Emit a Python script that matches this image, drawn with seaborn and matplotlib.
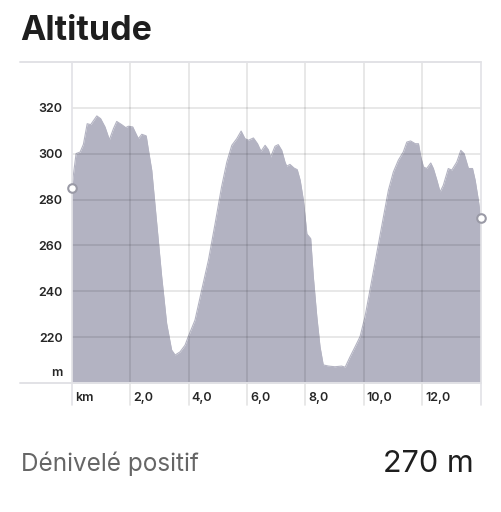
import numpy as np
import pandas as pd
import matplotlib.pyplot as plt
import matplotlib.transforms as mtransforms
import seaborn as sns

# profile (km, m)
dist_km = [0.0, 0.15, 0.29, 0.40, 0.53, 0.65, 0.86, 0.99, 1.14, 1.29, 1.43, 1.54,
           1.71, 1.85, 1.94, 2.09, 2.17, 2.28, 2.40, 2.55, 2.62, 2.74, 2.91, 3.08,
           3.25, 3.42, 3.54, 3.71, 3.88, 3.99, 4.22, 4.45, 4.68, 4.91, 5.13, 5.31,
           5.48, 5.65, 5.80, 5.93, 6.05, 6.22, 6.36, 6.48, 6.62, 6.73, 6.81, 6.96,
           7.07, 7.19, 7.30, 7.36, 7.47, 7.61, 7.72, 7.82, 7.93, 7.99, 8.05, 8.18,
           8.27, 8.39, 8.50, 8.61, 8.79, 9.01, 9.24, 9.36, 9.53, 9.70, 9.87, 10.04,
           10.21, 10.44, 10.67, 10.84, 11.01, 11.18, 11.35, 11.47, 11.60, 11.76, 11.87,
           11.95, 12.04, 12.15, 12.29, 12.38, 12.50, 12.61, 12.72, 12.89, 13.01, 13.18,
           13.32, 13.43, 13.58, 13.72, 13.81, 13.92, 14.0]
alt_m = [285.0, 300.0, 300.7, 304.0, 313.0, 312.6, 316.4, 315.2, 311.6, 306.0, 310.9, 314.0,
         312.6, 311.3, 311.9, 311.6, 309.4, 306.5, 308.4, 307.7, 302.0, 292.7, 269.6, 246.4,
         226.0, 214.5, 212.3, 213.7, 216.6, 220.3, 227.5, 240.6, 253.6, 269.6, 285.5, 296.3,
         303.6, 306.5, 309.8, 306.5, 305.8, 306.8, 304.3, 301.0, 303.6, 301.7, 298.5, 303.2,
         303.9, 301.4, 296.3, 294.5, 295.3, 293.7, 293.0, 288.4, 279.7, 272.4, 265.0, 263.0,
         246.4, 229.0, 215.9, 208.0, 207.5, 207.2, 207.5, 207.0, 211.6, 215.9, 220.3, 229.0,
         240.6, 256.5, 272.4, 284.0, 292.0, 297.1, 300.7, 305.0, 305.5, 304.3, 304.3,
         298.5, 294.2, 293.5, 295.9, 293.5, 288.4, 283.3, 286.2, 293.5, 292.8, 296.3,
         301.4, 300.0, 293.5, 293.5, 288.4, 279.7, 272.0]

x_ticks = [0, 2, 4, 6, 8, 10, 12]
x_tick_labels = ["km", "2,0", "4,0", "6,0", "8,0", "10,0", "12,0"]
y_ticks = [205, 220, 240, 260, 280, 300, 320]
y_tick_labels = ["m", "220", "240", "260", "280", "300", "320"]
y_grid = [220, 240, 260, 280, 300, 320]
x_grid = [2, 4, 6, 8, 10, 12]

title_text = "Altitude"
stat_label = "Dénivelé positif"
stat_value = "270 m"

df = pd.DataFrame({"km": dist_km, "alt": alt_m})

sns.set_theme(style="white")
plt.rcParams["font.family"] = ["Inter", "DejaVu Sans"]

FILL = "#b3b3c2"
GRID = "#e2e2e6"

fig = plt.figure(figsize=(5.01, 5.12), dpi=100)
ax = fig.add_axes([71.7 / 501, 1 - 383.3 / 512, 409 / 501, 321.6 / 512])

ax.fill_between(df["km"], df["alt"], 200, color=FILL, lw=0, zorder=1)
sns.lineplot(data=df, x="km", y="alt", color=FILL, lw=0.8, ax=ax, zorder=2)

# grid on top of the area (semi-transparent so it darkens inside the fill)
for v in y_grid:
    ax.axhline(v, color="black", alpha=0.11, lw=1.2, zorder=3)
for v in x_grid:
    ax.axvline(v, ymin=-0.0675, ymax=1, color="black", alpha=0.11, lw=1.2,
               zorder=3, clip_on=False)
for v in (0, 14):
    ax.axvline(v, ymin=-0.0675, ymax=1, color=GRID, lw=1.2, zorder=3, clip_on=False)
for frac in (0, 1):
    ax.axhline(200 if frac == 0 else 340, xmin=-0.1264, xmax=1, color=GRID,
               lw=1.4, zorder=3, clip_on=False)

ends = df.iloc[[0, -1]]
sns.scatterplot(data=ends, x="km", y="alt", s=38, color="white",
                edgecolor="#9a9aa6", linewidth=1.5, ax=ax, zorder=5, clip_on=False)

ax.set_xlim(0, 14)
ax.set_ylim(200, 340)
ax.set_xticks(x_ticks)
ax.set_xticklabels(x_tick_labels, ha="left")
ax.set_yticks(y_ticks)
ax.set_yticklabels(y_tick_labels)
ax.tick_params(axis="both", length=0, labelsize=9, labelcolor="#262626")
ax.tick_params(axis="x", pad=6)
ax.tick_params(axis="y", pad=6.5)
for lab in ax.get_xticklabels() + ax.get_yticklabels():
    lab.set_fontweight("semibold")
shift = mtransforms.ScaledTranslation(3 / 100, 0, fig.dpi_scale_trans)
for lab in ax.get_xticklabels():
    lab.set_transform(lab.get_transform() + shift)
ax.set_xlabel("")
ax.set_ylabel("")
for s in ax.spines.values():
    s.set_visible(False)

fig.text(20 / 501, 1 - 31 / 512, title_text, fontsize=24.5, fontweight="bold",
         color="#1e1e1e", va="center", ha="left")
fig.text(21 / 501, 1 - 464 / 512, stat_label, fontsize=17.5, color="#666666",
         va="center", ha="left")
fig.text(474 / 501, 1 - 464 / 512, stat_value, fontsize=22, color="#1e1e1e",
         va="center", ha="right")

fig.savefig("out.png", dpi=100)
